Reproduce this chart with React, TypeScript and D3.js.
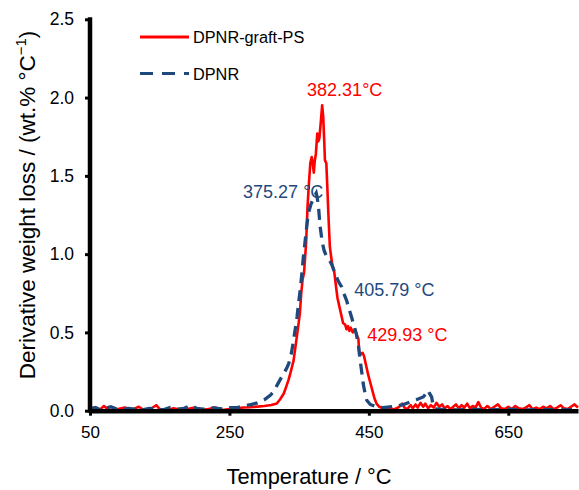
import React, { useEffect, useRef } from 'react';
import * as d3 from 'd3';

// DPNR-graft-PS (solid red)
const redTemp = [
  50, 55, 60, 65, 70, 75, 80, 90, 100, 110, 120, 125, 135, 145, 150, 160, 170, 180, 190, 200,
  210, 220, 230, 240, 250, 260, 270, 280, 290, 300, 310, 318, 323, 328, 332, 335, 338, 342, 346, 349,
  351, 353, 355, 357, 360, 362, 364, 366, 368, 369.5, 371, 372.5, 374, 376, 377.5, 379, 381, 383, 384.5, 386,
  387, 389, 390.5, 392, 394, 396, 398, 400, 403, 405, 408, 411, 413, 416, 418, 420, 422, 424, 427, 430,
  433, 435, 436, 438, 441, 443, 446, 449, 452, 455, 458, 461, 465, 470, 475, 480, 485, 490, 495, 498,
  501, 505, 510, 513, 517, 520, 524, 528, 531, 535, 539, 543, 547, 551, 555, 559, 563, 567, 571, 575,
  579, 583, 587, 591, 595, 599, 603, 607, 611, 615, 620, 625, 630, 635, 640, 645, 650, 655, 660, 665,
  670, 675, 680, 685, 690, 695, 700, 705, 710, 715, 720, 725, 730, 735, 740, 745, 750,
];
const redDeriv = [
  0.01, 0.02, 0.005, 0.01, 0.03, 0.01, 0.005, 0.01, 0.02, 0.005, 0.025, 0.01, 0.005, 0.035, 0.01, 0.005, 0.015, 0.005, 0.01, 0.02,
  0.005, 0.01, 0.02, 0.005, 0.01, 0.015, 0.02, 0.022, 0.026, 0.03, 0.036, 0.046, 0.075, 0.11, 0.16, 0.2, 0.25, 0.32, 0.45, 0.55,
  0.62, 0.75, 0.84, 0.88, 1.07, 1.3, 1.45, 1.58, 1.62, 1.58, 1.52, 1.6, 1.64, 1.77, 1.72, 1.74, 1.84, 1.95, 1.88, 1.72,
  1.6, 1.58, 1.42, 1.25, 1.05, 0.98, 0.92, 0.9, 0.79, 0.72, 0.66, 0.6, 0.56, 0.55, 0.52, 0.54, 0.51, 0.53, 0.5, 0.52,
  0.48, 0.46, 0.38, 0.36, 0.37, 0.35, 0.29, 0.23, 0.18, 0.13, 0.08, 0.045, 0.025, 0.014, 0.01, 0.02, 0.008, 0.015, 0.03, 0.045,
  0.02, 0.01, 0.035, 0.015, 0.04, 0.02, 0.05, 0.025, 0.045, 0.015, 0.035, 0.02, 0.05, 0.025, 0.04, 0.015, 0.03, 0.01, 0.025, 0.04,
  0.015, 0.035, 0.02, 0.045, 0.015, 0.03, 0.02, 0.055, 0.02, 0.01, 0.03, 0.01, 0.025, 0.04, 0.015, 0.01, 0.025, 0.01, 0.03, 0.015,
  0.01, 0.02, 0.035, 0.01, 0.02, 0.01, 0.025, 0.015, 0.03, 0.01, 0.02, 0.035, 0.015, 0.01, 0.025, 0.04, 0.02,
];

// DPNR (dashed blue)
const blueTemp = [
  50, 58, 65, 72, 80, 88, 95, 105, 115, 125, 135, 145, 155, 165, 175, 185, 195, 203, 212, 222,
  232, 242, 252, 261, 270, 282, 290, 300, 309, 313, 318, 323, 328, 332, 335, 339, 342, 345, 347, 349,
  351.5, 354, 356, 359, 362, 364.5, 367, 370, 372, 374.5, 376, 378, 380, 383, 386, 389, 392, 395, 398, 401,
  404, 407, 411, 414, 418, 421, 425, 429, 432, 435, 437, 440, 442, 445, 447, 452, 461, 470, 480, 490,
  500, 509, 518, 528, 532, 535, 537, 540, 542, 545, 555, 565, 575, 600, 625, 650, 675, 700, 725, 750,
];
const blueDeriv = [
  0.01, 0.02, 0.005, 0.015, 0.025, 0.01, 0.005, 0.015, 0.01, 0.005, 0.015, 0.01, 0.005, 0.02, 0.01, 0.015, 0.035, 0.015, 0.01, 0.02,
  0.015, 0.01, 0.02, 0.02, 0.03, 0.04, 0.05, 0.07, 0.1, 0.12, 0.16, 0.2, 0.24, 0.27, 0.3, 0.37, 0.45, 0.54, 0.6, 0.68,
  0.77, 0.88, 0.98, 1.1, 1.22, 1.28, 1.32, 1.35, 1.37, 1.39, 1.36, 1.29, 1.18, 1.08, 1.02, 0.99, 0.97, 0.95, 0.92, 0.88,
  0.85, 0.82, 0.79, 0.75, 0.705, 0.66, 0.6, 0.54, 0.49, 0.42, 0.34, 0.24, 0.17, 0.1, 0.067, 0.04, 0.024, 0.02, 0.025, 0.029,
  0.04, 0.056, 0.07, 0.088, 0.11, 0.13, 0.11, 0.088, 0.04, 0.012, 0.008, 0.01, 0.005, 0.008, 0.005, 0.01, 0.005, 0.008, 0.005, 0.008,
];

const xTicks = [50, 250, 450, 650];
const yTicks = [0, 0.5, 1.0, 1.5, 2.0, 2.5];

const RED = '#ff0000';
const BLUE = '#1f497d';
const FONT = '"Liberation Sans", Arial, sans-serif';

export default function App() {
  const svgRef = useRef<SVGSVGElement>(null);

  useEffect(() => {
    const svg = d3.select(svgRef.current);
    svg.selectAll('*').remove();
    svg.style('font-family', FONT);

    const x = d3.scaleLinear().domain([50, 750]).range([90, 578]);
    const y = d3.scaleLinear().domain([0, 2.5]).range([410.7, 19.3]);

    const line = d3.line<[number, number]>()
      .x(d => x(d[0]))
      .y(d => y(d[1]));

    const redPts = redTemp.map((t, i) => [t, redDeriv[i]] as [number, number]);
    const bluePts = blueTemp.map((t, i) => [t, blueDeriv[i]] as [number, number]);

    // curves
    svg.append('path')
      .attr('d', line(redPts))
      .attr('fill', 'none')
      .attr('stroke', RED)
      .attr('stroke-width', 2.6)
      .attr('stroke-linejoin', 'round');

    svg.append('path')
      .attr('d', line(bluePts))
      .attr('fill', 'none')
      .attr('stroke', BLUE)
      .attr('stroke-width', 3.3)
      .attr('stroke-dasharray', '11,7');

    // X axis
    const xAxis = svg.append('g')
      .attr('transform', `translate(0,${y(0)})`)
      .call(d3.axisBottom(x).tickValues(xTicks).tickSize(5).tickSizeOuter(0).tickPadding(10).tickFormat(d3.format('d')));
    xAxis.select('.domain').attr('stroke', '#000').attr('stroke-width', 4.5);
    xAxis.selectAll('.tick line').attr('stroke', '#000').attr('stroke-width', 3);
    xAxis.selectAll('.tick text').attr('font-size', 17).attr('font-family', FONT).attr('fill', '#000');

    // Y axis
    const yAxis = svg.append('g')
      .attr('transform', `translate(${x(50)},0)`)
      .call(d3.axisLeft(y).tickValues(yTicks).tickSize(5).tickSizeOuter(0).tickPadding(11).tickFormat(d3.format('.1f')));
    yAxis.select('.domain').attr('stroke', '#000').attr('stroke-width', 4.5)
      .attr('d', `M0,${y(2.5) - 2}V${y(0) + 2}`);
    yAxis.selectAll('.tick line').attr('stroke', '#000').attr('stroke-width', 3);
    yAxis.selectAll('.tick text').attr('font-size', 17.5).attr('font-family', FONT).attr('fill', '#000');

    // axis titles
    svg.append('text')
      .attr('x', 309)
      .attr('y', 484)
      .attr('text-anchor', 'middle')
      .attr('font-size', 21.8)
      .text('Temperature / °C');

    const yt = svg.append('text')
      .attr('transform', 'translate(35,205) rotate(-90)')
      .attr('text-anchor', 'middle')
      .attr('font-size', 22.5);
    yt.append('tspan').text('Derivative weight loss / (wt.% °C');
    yt.append('tspan').attr('font-size', 15).attr('dy', -9).text('−1');
    yt.append('tspan').attr('dy', 9).text(')');

    // legend
    const legend = [
      { name: 'DPNR-graft-PS', color: RED, dash: null, yy: 37 },
      { name: 'DPNR', color: BLUE, dash: '13,9', yy: 73.5 },
    ];
    legend.forEach(l => {
      const ln = svg.append('line')
        .attr('x1', 140).attr('x2', 189)
        .attr('y1', l.yy).attr('y2', l.yy)
        .attr('stroke', l.color)
        .attr('stroke-width', 3.2);
      if (l.dash) ln.attr('stroke-dasharray', l.dash);
      svg.append('text')
        .attr('x', 193)
        .attr('y', l.yy + 6)
        .attr('font-size', 16.3)
        .attr('fill', '#000')
        .text(l.name);
    });

    // peak annotations
    const notes = [
      { t: 361.4, v: 2.01, label: '382.31°C', color: RED },
      { t: 269.6, v: 1.36, label: '375.27 °C', color: BLUE },
      { t: 429, v: 0.731, label: '405.79 °C', color: BLUE },
      { t: 447.6, v: 0.444, label: '429.93 °C', color: RED },
    ];
    svg.selectAll('.note')
      .data(notes)
      .enter()
      .append('text')
      .attr('class', 'note')
      .attr('x', d => x(d.t))
      .attr('y', d => y(d.v))
      .attr('font-size', 18)
      .attr('fill', d => d.color)
      .text(d => d.label);
  }, []);

  return (
    <svg
      ref={svgRef}
      width={579}
      height={490}
      style={{ position: 'absolute', left: 0, top: 0, background: '#fff' }}
    />
  );
}
